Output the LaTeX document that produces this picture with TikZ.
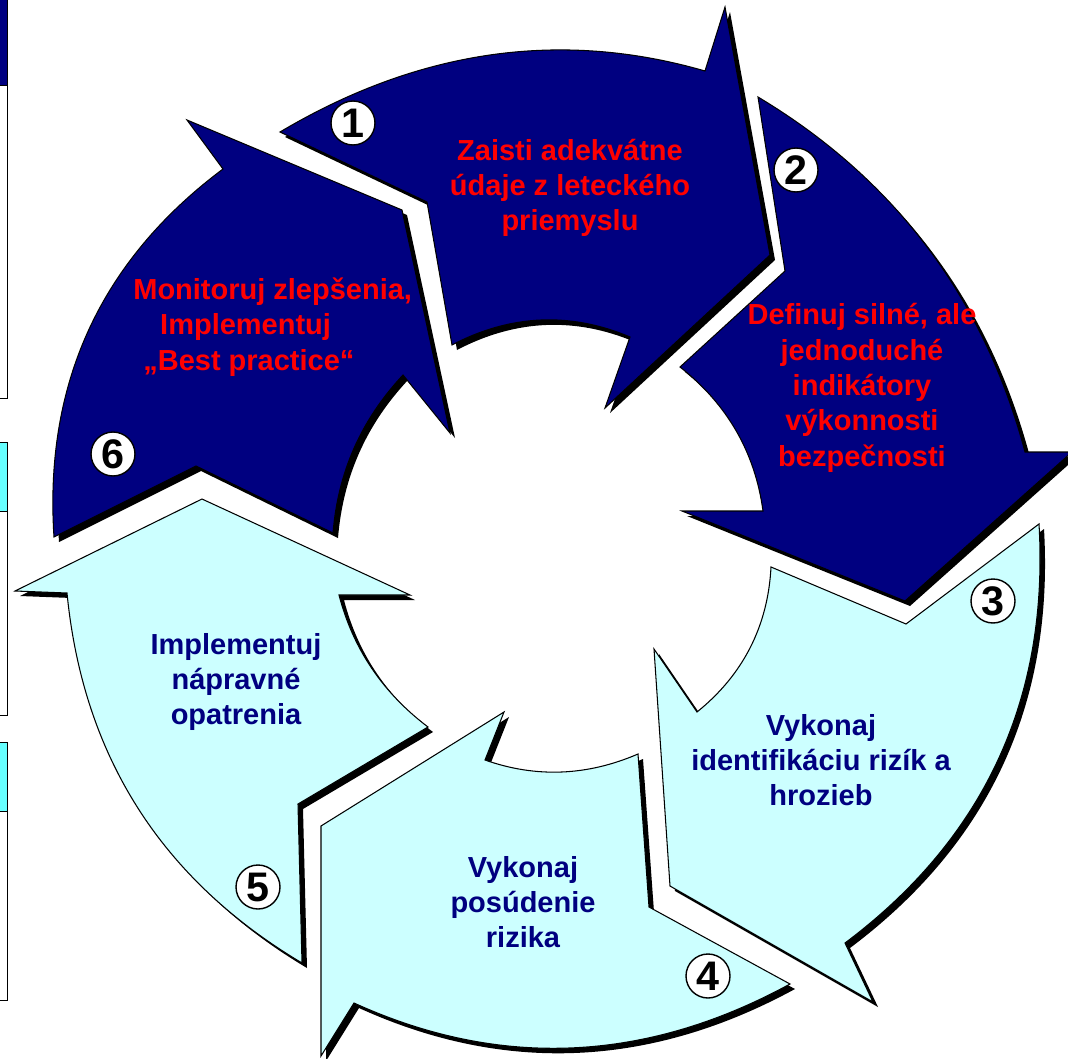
\documentclass[tikz,border=0pt]{standalone}
\usepackage{fontspec}
\setmainfont{Liberation Sans}
\usepackage{tikz}

\definecolor{navyblue}{RGB}{0,0,128}
\definecolor{palecyan}{RGB}{204,255,255}
\definecolor{boxcyan}{RGB}{102,255,255}

\begin{document}
\begin{tikzpicture}[x=0.02cm,y=-0.02cm,
    darkarrow/.style={fill=navyblue,draw=black,line width=0.6pt,
      preaction={fill=black,transform canvas={shift={(5,5)}}}},
    lightarrow/.style={fill=palecyan,draw=black,line width=0.6pt,
      preaction={fill=black,transform canvas={shift={(5,5)}}}},
    redlabel/.style={text=red,align=center,font=\fontsize{16.5}{20.1}\selectfont\bfseries},
    bluelabel/.style={text=navyblue,align=center,font=\fontsize{16.5}{20.1}\selectfont\bfseries},
    stepnum/.style={circle,draw=black,fill=white,line width=0.8pt,minimum size=0.88cm,
      inner sep=0pt,font=\fontsize{23.5}{24}\selectfont\bfseries}]

  \useasboundingbox (0,0) rectangle (1068,1058);

  % cut-off boxes at the left edge
  \filldraw[fill=navyblue,draw=black] (-5,-5) rectangle (7,85);
  \filldraw[fill=white,draw=black]    (-5,85) rectangle (7,398);
  \filldraw[fill=boxcyan,draw=black]  (-5,442) rectangle (7,511);
  \filldraw[fill=white,draw=black]    (-5,511) rectangle (7,715);
  \filldraw[fill=boxcyan,draw=black]  (-5,742) rectangle (7,811);
  \filldraw[fill=white,draw=black]    (-5,811) rectangle (7,1000);

  % the six arrows of the cycle
  \path[darkarrow] (280,132) .. controls (418,50) and (560,29) .. (705,71) -- (725,7)
    -- (770,255) -- (605,408) -- (630,337) .. controls (571,312) and (511,314) .. (452,345)
    -- (427,202) -- cycle;
  \path[darkarrow] (758,97) -- (785,271) -- (680,367) .. controls (727,404) and (755,452) .. (763,511)
    -- (682,511) -- (905,601) -- (1072,452) -- (1025,452) .. controls (984,298) and (895,179) .. (758,97)
    -- cycle;
  \path[lightarrow] (1039,524) -- (906,624) -- (771,567) .. controls (768,626) and (743,675) .. (697,712)
    -- (654,649) -- (670,886) -- (873,1002) -- (845,943) .. controls (985,838) and (1049,698) .. (1039,524)
    -- cycle;
  \path[lightarrow] (790,984) -- (649,907) -- (638,754) .. controls (587,776) and (536,778) .. (485,760)
    -- (504,712) -- (321,826) -- (321,1056) -- (354,1003) .. controls (499,1069) and (645,1063) .. (790,984)
    -- cycle;
  \path[lightarrow] (302,963) -- (298,804) -- (428,727) .. controls (383,693) and (353,649) .. (339,595)
    -- (410,595) -- (202,499) -- (15,591) -- (67,593) .. controls (83,756) and (161,879) .. (302,963)
    -- cycle;
  \path[darkarrow] (54,537) -- (196,466) -- (333,533) .. controls (338,472) and (361,420) .. (403,375)
    -- (450,433) -- (402,210) -- (187,120) -- (223,169) .. controls (100,261) and (44,384) .. (54,537)
    -- cycle;

  % texts
  \node[redlabel]  (zaisti)   at (570,188) {Zaisti adekvátne\\údaje z leteckého\\priemyslu};
  \node[redlabel]  (definuj)  at (862,388) {Definuj silné, ale\\jednoduché\\indikátory\\výkonnosti\\bezpečnosti};
  \node[bluelabel] (identif)  at (821,760) {Vykonaj\\identifikáciu rizík a\\hrozieb};
  \node[bluelabel] (posud)    at (523,902) {Vykonaj\\posúdenie\\rizika};
  \node[bluelabel] (naprav)   at (236,682) {Implementuj\\nápravné\\opatrenia};
  \node[redlabel,align=left,anchor=west,inner sep=0pt] (monitor) at (133,327)
    {Monitoruj zlepšenia,\\\hspace*{15.3pt}Implementuj\\\hspace*{5.7pt}„Best practice“};

  % step numbers
  \node[stepnum] (n1) at (353,123) {1};
  \node[stepnum] (n2) at (796,170) {2};
  \node[stepnum] (n3) at (993,601) {3};
  \node[stepnum] (n4) at (708,976) {4};
  \node[stepnum] (n5) at (258,887) {5};
  \node[stepnum] (n6) at (113,454) {6};

\end{tikzpicture}
\end{document}
